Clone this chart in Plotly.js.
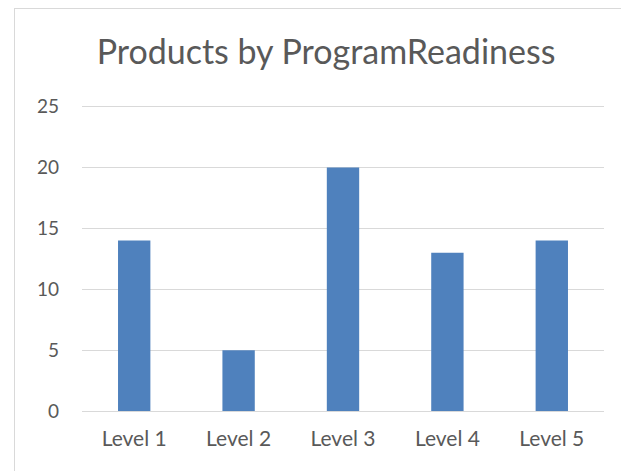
<!DOCTYPE html>
<html>
<head>
<meta charset="utf-8">
<script src="https://cdn.plot.ly/plotly-3.0.1.min.js"></script>
<style>
html,body{margin:0;padding:0;background:#fff;}
#wrap{position:relative;width:621px;height:471px;overflow:hidden;}
#frame{position:absolute;left:14px;top:8px;width:700px;height:600px;border:1px solid #d9d9d9;box-sizing:border-box;}
#chart{position:absolute;left:0;top:0;width:621px;height:471px;}
</style>
</head>
<body>
<div id="wrap"><div id="frame"></div><div id="chart"></div></div>
<script>
const categories = ["Level 1", "Level 2", "Level 3", "Level 4", "Level 5"];
const values = [14, 5, 20, 13, 14];
const yTicks = [0, 5, 10, 15, 20, 25];

const trace = {
  type: "bar",
  x: categories,
  y: values,
  marker: {color: "#4f81bd"},
  hoverinfo: "x+y"
};

const FONT = "Lato, 'Open Sans', sans-serif";

const layout = {
  width: 621,
  height: 471,
  paper_bgcolor: "rgba(0,0,0,0)",
  plot_bgcolor: "rgba(0,0,0,0)",
  margin: {l: 82, r: 17, t: 103, b: 60},
  bargap: 0.69,
  showlegend: false,
  font: {family: FONT, color: "#595959"},
  title: {
    text: "Products by ProgramReadiness",
    font: {family: FONT, size: 34, color: "#595959"},
    x: 0.525, xanchor: "center",
    y: 0.889, yanchor: "middle"
  },
  xaxis: {
    showgrid: false,
    showline: false,
    ticks: "",
    tickfont: {family: FONT, size: 21, color: "#595959"},
    ticklabelstandoff: 13
  },
  yaxis: {
    range: [0, 25.3],
    tickvals: yTicks,
    ticktext: yTicks.map(String),
    showgrid: true,
    gridcolor: "#d9d9d9",
    gridwidth: 1,
    zeroline: true,
    zerolinecolor: "#d9d9d9",
    zerolinewidth: 1,
    showline: false,
    ticks: "",
    tickfont: {family: FONT, size: 19, color: "#595959"},
    ticklabelstandoff: 22
  }
};

Plotly.newPlot("chart", [trace], layout, {displayModeBar: false, staticPlot: true});
</script>
</body>
</html>
